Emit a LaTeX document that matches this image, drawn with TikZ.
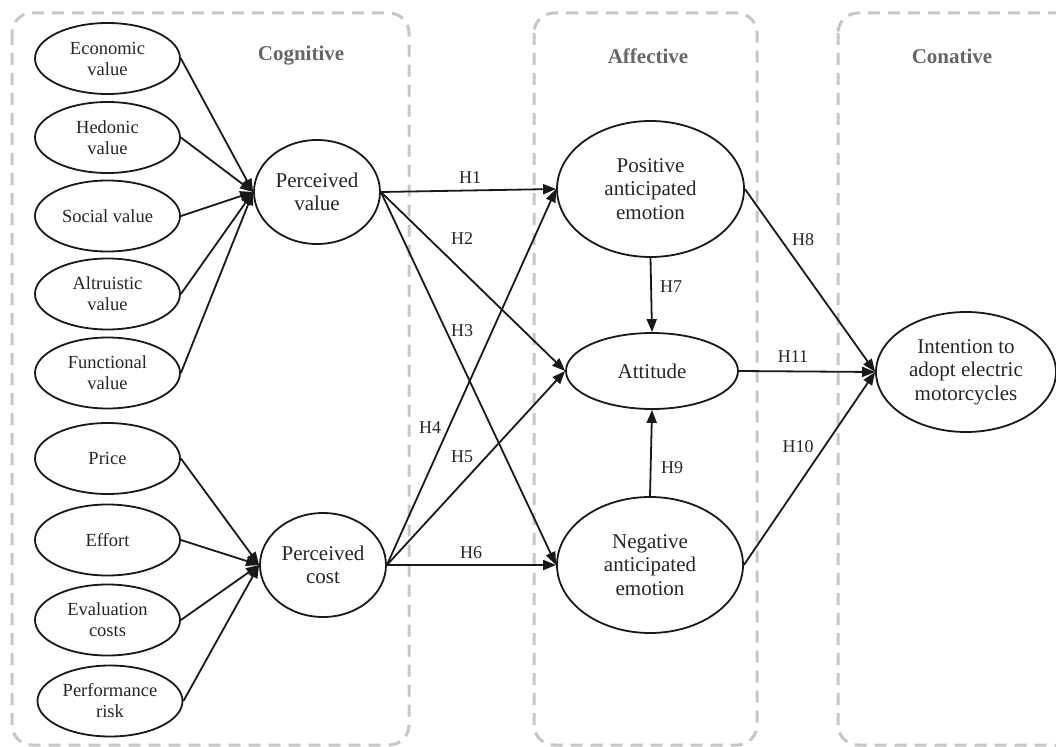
\documentclass[tikz,border=0pt]{standalone}
\usepackage{fontspec}
\setmainfont{Liberation Serif}
\usetikzlibrary{shapes.geometric,arrows.meta}
\begin{document}
\begin{tikzpicture}[x=1pt,y=-1pt,
 ov/.style={ellipse,draw=black!90,line width=1.8pt,inner sep=0pt,align=center,text=black!85},
 small/.style={ov,minimum width=145pt,minimum height=71pt,font=\fontsize{18.5}{21}\selectfont},
 big/.style={ov,font=\fontsize{21}{23.5}\selectfont},
 conn/.style={line width=1.8pt,draw=black!90,-{Triangle[length=13pt,width=10pt]}},
 hyp/.style={font=\fontsize{18}{20}\selectfont,text=black!85},
 group/.style={draw=black!22,line width=3pt,rounded corners=20pt,dash pattern=on 12pt off 8pt},
 head/.style={font=\fontsize{21}{23}\selectfont\bfseries,text=black!60,anchor=base}]
\clip (0,0) rectangle (1056,746);
\fill[white] (0,0) rectangle (1056,746);
% group boxes
\draw[group] (12,13) rectangle (409,745);
\draw[group] (534,13) rectangle (757,745);
\draw[group] (838,13) rectangle (1090,745);
\node[head] (hcog) at (301,61) {Cognitive};
\node[head] (haff) at (648,64) {Affective};
\node[head] (hcon) at (952,64) {Conative};
% small ellipses
\node[small] (eco) at (107.5,58.5) {Economic\\value};
\node[small] (hed) at (107.5,137.5) {Hedonic\\value};
\node[small] (soc) at (107.5,216) {Social value};
\node[small] (alt) at (107.5,294) {Altruistic\\value};
\node[small] (fun) at (107.5,373) {Functional\\value};
\node[small] (pri) at (107.5,458.5) {Price};
\node[small] (eff) at (107.5,540) {Effort};
\node[small] (eva) at (107.5,620) {Evaluation\\costs};
\node[small] (per) at (110,701) {Performance\\risk};
% big ellipses
\node[big,minimum width=126pt,minimum height=104pt] (pv) at (317,192) {Perceived\\value};
\node[big,minimum width=126pt,minimum height=104pt] (pc) at (323,565) {Perceived\\cost};
\node[big,minimum width=187pt,minimum height=136pt] (pos) at (650.5,189) {Positive\\anticipated\\emotion};
\node[big,minimum width=172pt,minimum height=76pt] (att) at (652,371) {Attitude};
\node[big,minimum width=186pt,minimum height=136pt] (neg) at (650,565) {Negative\\anticipated\\emotion};
\node[big,minimum width=180pt,minimum height=120pt] (int) at (966,372) {Intention to\\adopt electric\\motorcycles};
% antecedents
\foreach \s in {eco,hed,soc,alt,fun} \draw[conn] (\s.east) -- (pv.west);
\foreach \s in {pri,eff,eva,per} \draw[conn] (\s.east) -- (pc.west);
% hypotheses
\draw[conn] (pv.east) -- (pos.west);
\draw[conn] (pv.east) -- (att.west);
\draw[conn] (pv.east) -- (neg.west);
\draw[conn] (pc.east) -- (pos.west);
\draw[conn] (pc.east) -- (att.west);
\draw[conn] (pc.east) -- (neg.west);
\draw[conn] (pos.south) -- (att.north);
\draw[conn] (neg.north) -- (att.south);
\draw[conn] (pos.east) -- (int.west);
\draw[conn] (att.east) -- (int.west);
\draw[conn] (neg.east) -- (int.west);
% labels
\node[hyp] (l1) at (470,178) {H1};
\node[hyp] (l2) at (462,239) {H2};
\node[hyp] (l3) at (462,331) {H3};
\node[hyp] (l4) at (430,428) {H4};
\node[hyp] (l5) at (462,457) {H5};
\node[hyp] (l6) at (471,553) {H6};
\node[hyp] (l7) at (671,287) {H7};
\node[hyp] (l9) at (672,468) {H9};
\node[hyp] (l8) at (803,240) {H8};
\node[hyp] (l11) at (793,357) {H11};
\node[hyp] (l10) at (798,447) {H10};
\end{tikzpicture}
\end{document}
